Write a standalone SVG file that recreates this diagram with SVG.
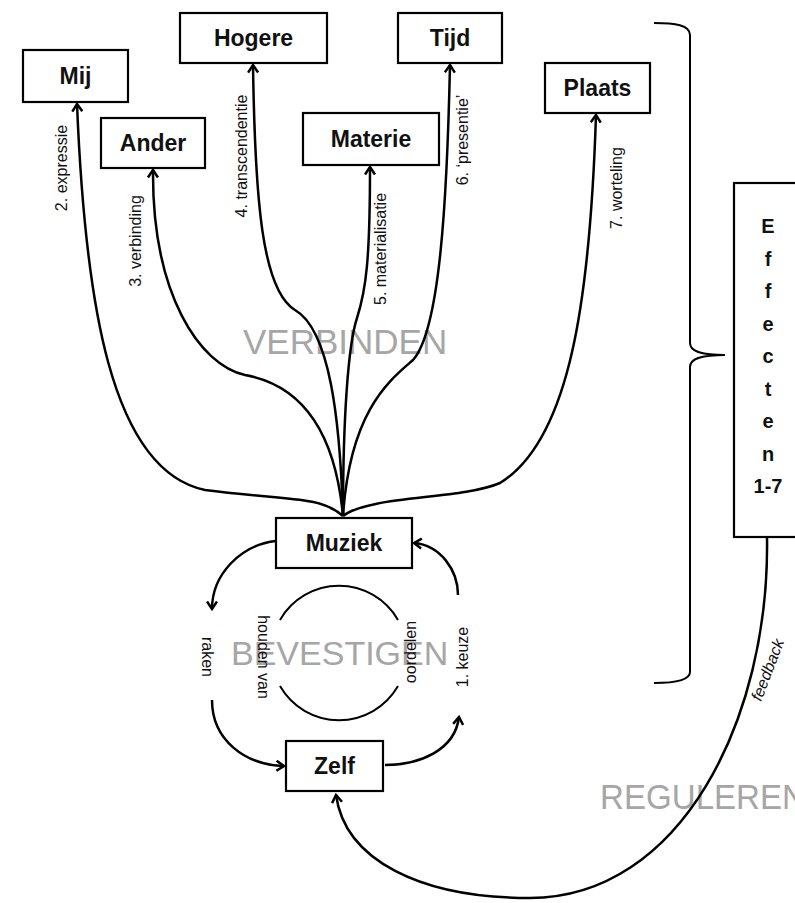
<svg xmlns="http://www.w3.org/2000/svg" width="795" height="903" viewBox="0 0 795 903">
<style>
.box{fill:#fff;stroke:#000;stroke-width:2.2}
.bl{font-family:"Liberation Sans",Arial,sans-serif;font-weight:bold;font-size:23px;text-anchor:middle;fill:#111}
.eff{font-family:"Liberation Sans",Arial,sans-serif;font-weight:bold;font-size:20px;text-anchor:middle;fill:#111}
.lab{font-family:"Liberation Sans",Arial,sans-serif;font-size:16px;text-anchor:middle;fill:#111}
.big{font-family:"Liberation Sans",Arial,sans-serif;font-size:35px;fill:#a6a6a6}
.ln{fill:none;stroke:#000;stroke-width:2.5}
.thin{fill:none;stroke:#000;stroke-width:2}
</style>
<defs>
<marker id="ah" viewBox="0 0 12 12" refX="10" refY="6" markerWidth="12" markerHeight="12" markerUnits="userSpaceOnUse" orient="auto">
<path d="M2.5,1 L10,6 L2.5,11" fill="none" stroke="#000" stroke-width="2.5"/>
</marker>
</defs>
<rect width="795" height="903" fill="#fff"/>
<g id="background-labels">
<text class="big" x="243" y="354">VERBINDEN</text>
<text class="big" x="231" y="665" style="font-size:34px">BEVESTIGEN</text>
<text class="big" x="600" y="809" textLength="206" lengthAdjust="spacingAndGlyphs">REGULEREN</text>
</g>
<g id="connectors">
<path class="ln" marker-end="url(#ah)" d="M343,516 C320,495 280,500 205,490 C110,470 85,300 77,104"/>
<path class="ln" marker-end="url(#ah)" d="M343,516 C335,430 300,385 245,375 C200,365 152,295 153,170"/>
<path class="ln" marker-end="url(#ah)" d="M343,516 C340,420 330,330 295,310 C262,290 255,200 253,65"/>
<path class="ln" marker-end="url(#ah)" d="M343,516 C343,420 348,345 357,318 C366,290 370,260 370,167"/>
<path class="ln" marker-end="url(#ah)" d="M343,516 C350,410 390,380 413,360 C440,330 447,200 450,65"/>
<path class="ln" marker-end="url(#ah)" d="M343,516 C370,495 460,500 500,483 C570,440 590,300 596,115"/>
<path class="ln" marker-end="url(#ah)" d="M276,541 C240,545 212,575 212,609"/>
<path class="ln" marker-end="url(#ah)" d="M212,700 C212,740 245,765 284,766"/>
<path class="ln" marker-end="url(#ah)" d="M385,765 C420,765 455,750 459,717"/>
<path class="ln" marker-end="url(#ah)" d="M458,595 C458,570 440,545 414,543"/>
<path class="ln" marker-end="url(#ah)" d="M767,537 C770,720 680,898 530,898 C420,898 345,860 336,795"/>
<path class="thin" d="M280,620 A68,68 0 0 1 398,620"/>
<path class="thin" d="M280,686 A68,68 0 0 0 398,686"/>
<path class="thin" d="M654,23 C675,23 690,25 690,35 L690,343 C690,351 700,355 725,355 C700,355 690,359 690,367 L690,672 C690,680 675,683 654,683"/>
</g>
<g id="labels">
<text class="lab" transform="translate(67,168) rotate(-90)">2. expressie</text>
<text class="lab" transform="translate(141,241) rotate(-90)">3. verbinding</text>
<text class="lab" transform="translate(247,156) rotate(-90)">4. transcendentie</text>
<text class="lab" transform="translate(386,249) rotate(-90)">5. materialisatie</text>
<text class="lab" transform="translate(468,140) rotate(-90)">6. ‘presentie’</text>
<text class="lab" transform="translate(622,188) rotate(-90)">7. worteling</text>
<text class="lab" transform="translate(468,657) rotate(-90)">1. keuze</text>
<text class="lab" transform="translate(416,652) rotate(-90)">oordelen</text>
<text class="lab" transform="translate(202,657) rotate(90)">raken</text>
<text class="lab" transform="translate(258,657) rotate(90)">houden van</text>
<text class="lab" style="font-style:italic" transform="translate(768,670) rotate(-69)" y="5">feedback</text>
</g>
<g id="node-mij"><rect class="box" x="23" y="50" width="105" height="52"/><text class="bl" x="75.5" y="84">Mij</text></g>
<g id="node-hogere"><rect class="box" x="180" y="13" width="147" height="50"/><text class="bl" x="253.5" y="46">Hogere</text></g>
<g id="node-ander"><rect class="box" x="101" y="118" width="104" height="50"/><text class="bl" x="153" y="151">Ander</text></g>
<g id="node-materie"><rect class="box" x="303" y="113" width="136" height="52"/><text class="bl" x="371" y="147">Materie</text></g>
<g id="node-tijd"><rect class="box" x="398" y="13" width="104" height="50"/><text class="bl" x="450" y="46">Tijd</text></g>
<g id="node-plaats"><rect class="box" x="545" y="63" width="105" height="50"/><text class="bl" x="597.5" y="96">Plaats</text></g>
<g id="node-muziek"><rect class="box" x="276" y="518" width="136" height="50"/><text class="bl" x="344" y="551">Muziek</text></g>
<g id="node-zelf"><rect class="box" x="286" y="741" width="97" height="50"/><text class="bl" x="334.5" y="774">Zelf</text></g>
<g id="node-effecten"><rect class="box" x="734" y="183" width="80" height="354"/>
<text class="eff" x="768" y="233">E</text>
<text class="eff" x="768" y="265.5">f</text>
<text class="eff" x="768" y="298">f</text>
<text class="eff" x="768" y="330.5">e</text>
<text class="eff" x="768" y="363">c</text>
<text class="eff" x="768" y="395.5">t</text>
<text class="eff" x="768" y="428">e</text>
<text class="eff" x="768" y="460.5">n</text>
<text class="eff" x="768" y="493">1-7</text>
</g>
</svg>
